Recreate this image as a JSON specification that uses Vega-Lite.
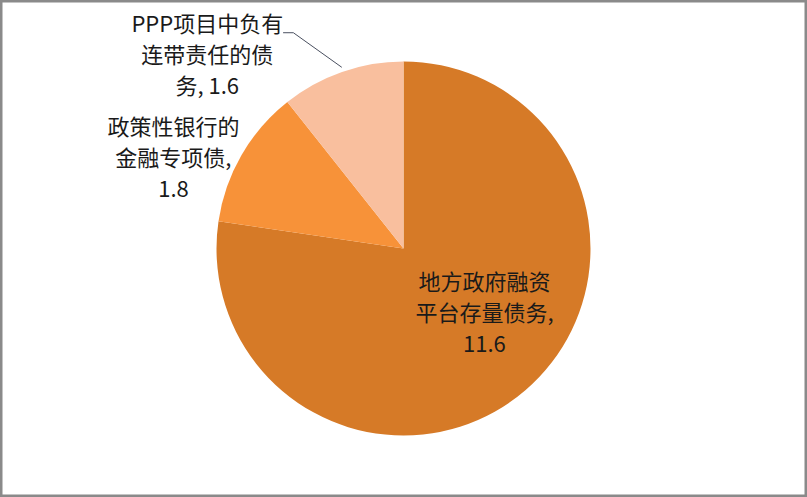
{
  "$schema": "https://vega.github.io/schema/vega-lite/v6.json",
  "autosize": {"type": "fit", "contains": "padding"},
  "width": 807,
  "height": 497,
  "padding": 0,
  "background": "white",
  "view": {"stroke": "#8a8a8a", "strokeWidth": 5},
  "data": {
    "values": [
      {"rank": 1, "name": "地方政府融资平台存量债务", "value": 11.6, "label": "地方政府融资\n平台存量债务,\n11.6"},
      {"rank": 2, "name": "政策性银行的金融专项债", "value": 1.8, "label": "政策性银行的\n金融专项债,\n1.8"},
      {"rank": 3, "name": "PPP项目中负有连带责任的债务", "value": 1.6, "label": "PPP项目中负有\n连带责任的债\n务, 1.6"}
    ]
  },
  "layer": [
    {
      "mark": {"type": "arc", "outerRadius": 187},
      "encoding": {
        "theta": {"field": "value", "type": "quantitative", "stack": true},
        "order": {"field": "rank", "type": "ordinal"},
        "color": {
          "field": "name",
          "type": "nominal",
          "legend": null,
          "scale": {
            "domain": ["地方政府融资平台存量债务", "政策性银行的金融专项债", "PPP项目中负有连带责任的债务"],
            "range": ["#d67a27", "#f79239", "#f9bf9e"]
          }
        }
      }
    },
    {
      "data": {
        "values": [
          {"px": -0.644, "py": 1.154, "k": 0},
          {"px": -0.589, "py": 1.154, "k": 1},
          {"px": -0.330, "py": 0.969, "k": 2}
        ]
      },
      "mark": {"type": "line", "color": "#4a5060", "strokeWidth": 1},
      "encoding": {
        "x": {"field": "px", "type": "quantitative", "axis": null, "scale": {"domain": [-2.158, 2.158], "nice": false, "zero": false}},
        "y": {"field": "py", "type": "quantitative", "axis": null, "scale": {"domain": [-1.329, 1.329], "nice": false, "zero": false}},
        "order": {"field": "k", "type": "ordinal"}
      }
    },
    {
      "mark": {"type": "text", "radius": 104, "dx": 13, "dy": -44, "font": "Noto Sans CJK SC", "fontSize": 22, "lineHeight": 31, "lineBreak": "\n", "align": "center", "baseline": "middle", "color": "#1a1a1a"},
      "encoding": {
        "theta": {"field": "value", "type": "quantitative", "stack": true},
        "order": {"field": "rank", "type": "ordinal"},
        "text": {"condition": {"test": "datum.rank === 1", "field": "label"}, "value": ""}
      }
    },
    {
      "mark": {"type": "text", "radius": 104, "dx": -140, "dy": -69, "font": "Noto Sans CJK SC", "fontSize": 22, "lineHeight": 31, "lineBreak": "\n", "align": "center", "baseline": "middle", "color": "#1a1a1a"},
      "encoding": {
        "theta": {"field": "value", "type": "quantitative", "stack": true},
        "order": {"field": "rank", "type": "ordinal"},
        "text": {"condition": {"test": "datum.rank === 2", "field": "label"}, "value": ""}
      }
    },
    {
      "mark": {"type": "text", "radius": 104, "dx": -162, "dy": -125, "font": "Noto Sans CJK SC", "fontSize": 22, "lineHeight": 31, "lineBreak": "\n", "align": "center", "baseline": "middle", "color": "#1a1a1a"},
      "encoding": {
        "theta": {"field": "value", "type": "quantitative", "stack": true},
        "order": {"field": "rank", "type": "ordinal"},
        "text": {"condition": {"test": "datum.rank === 3", "field": "label"}, "value": ""}
      }
    }
  ]
}
